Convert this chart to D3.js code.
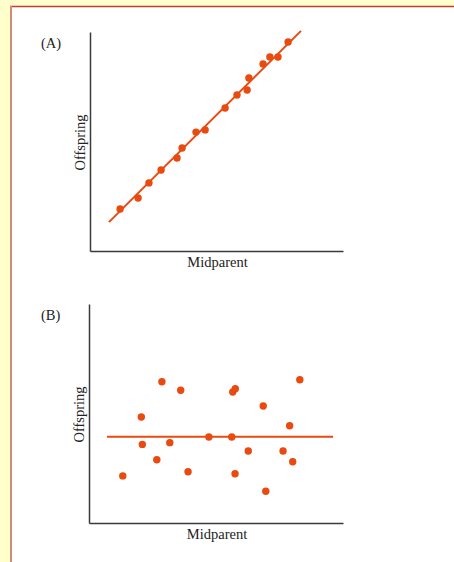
<!DOCTYPE html>
<html>
<head>
<meta charset="utf-8">
<script src="https://cdn.jsdelivr.net/npm/d3@7"></script>
<style>
  html, body { margin: 0; padding: 0; background: #FFFFCC; }
  svg { display: block; }
  text { font-family: "Liberation Serif", "Times New Roman", serif; fill: #222; }
</style>
</head>
<body>
<svg id="chart" width="454" height="562"></svg>
<script>
// ---- Data (arbitrary units, 0-100 on each axis) ----
const panelLabels = ["(A)", "(B)"];
const xLabel = "Midparent";
const yLabel = "Offspring";

const midparentA = [11.9, 19.0, 23.3, 28.1, 34.4, 36.4, 41.9, 45.5, 53.4, 58.1, 62.1, 62.8, 68.4, 71.1, 74.3, 78.3];
const offspringA = [19.2, 24.2, 31.1, 37.0, 42.5, 47.0, 54.3, 55.3, 65.3, 71.2, 73.5, 79.0, 85.4, 88.6, 88.6, 95.4];
const fitLineAx = [7.5, 83.4];
const fitLineAy = [13.2, 100.5];

const midparentB = [13.3, 20.6, 21.0, 26.7, 28.7, 31.8, 36.1, 39.0, 47.2, 56.2, 56.6, 57.6, 57.5, 62.7, 68.6, 69.6, 76.4, 79.0, 80.2, 83.0];
const offspringB = [21.5, 48.4, 35.9, 28.9, 64.5, 36.7, 60.6, 23.4, 39.3, 39.3, 59.8, 61.3, 22.5, 32.9, 53.4, 14.5, 32.9, 44.4, 28.0, 65.4];
const fitLineBx = [7.1, 96.1];
const fitLineBy = [39.4, 39.4];

const markColor = "#E84A10";

const svg = d3.select("#chart");

// Frame: white page with borders
svg.append("rect").attr("x", 11).attr("y", 6.5).attr("width", 454 - 11).attr("height", 562 - 6.5).attr("fill", "#fff");
svg.append("line").attr("x1", 10).attr("x2", 454).attr("y1", 6.5).attr("y2", 6.5)
  .attr("stroke", "#C83A32").attr("stroke-width", 1.6);
svg.append("line").attr("x1", 11).attr("x2", 11).attr("y1", 6).attr("y2", 562)
  .attr("stroke", "#D38A78").attr("stroke-width", 2);

function panel(cfg) {
  const x = d3.scaleLinear().domain([0, 100]).range([cfg.left, cfg.right]);
  const y = d3.scaleLinear().domain([0, 100]).range([cfg.bottom, cfg.top]);
  const g = svg.append("g");

  const xAxis = g.append("g").attr("transform", `translate(0,${cfg.bottom})`)
    .call(d3.axisBottom(x).tickValues([]).tickSizeOuter(0));
  const yAxis = g.append("g").attr("transform", `translate(${cfg.left},0)`)
    .call(d3.axisLeft(y).tickValues([]).tickSizeOuter(0));
  [xAxis, yAxis].forEach(a => a.select(".domain").attr("stroke", "#3a3a3a").attr("stroke-width", 1.5));

  // Fit line
  g.append("line")
    .attr("x1", x(cfg.lx[0])).attr("y1", y(cfg.ly[0]))
    .attr("x2", x(cfg.lx[1])).attr("y2", y(cfg.ly[1]))
    .attr("stroke", markColor).attr("stroke-width", 2);

  // Points
  g.selectAll("circle").data(d3.zip(cfg.xs, cfg.ys)).join("circle")
    .attr("cx", d => x(d[0])).attr("cy", d => y(d[1])).attr("r", 3.7)
    .attr("fill", markColor);

  // Labels
  g.append("text").attr("x", 41).attr("y", cfg.top + cfg.labelDy).attr("font-size", 14.5).text(cfg.label);
  g.append("text").attr("x", (cfg.left + cfg.right) / 2 + 1).attr("y", cfg.bottom + 16)
    .attr("text-anchor", "middle").attr("font-size", 14.5).text(xLabel);
  g.append("text")
    .attr("transform", `translate(${cfg.left - 5},${(cfg.top + cfg.bottom) / 2 + 1}) rotate(-90)`)
    .attr("text-anchor", "middle").attr("font-size", 14.5).text(yLabel);
}

panel({ left: 90, right: 343, top: 32, bottom: 251, xs: midparentA, ys: offspringA,
        lx: fitLineAx, ly: fitLineAy, label: panelLabels[0], labelDy: 16 });
panel({ left: 89, right: 343, top: 304, bottom: 523, xs: midparentB, ys: offspringB,
        lx: fitLineBx, ly: fitLineBy, label: panelLabels[1], labelDy: 16 });
</script>
</body>
</html>
